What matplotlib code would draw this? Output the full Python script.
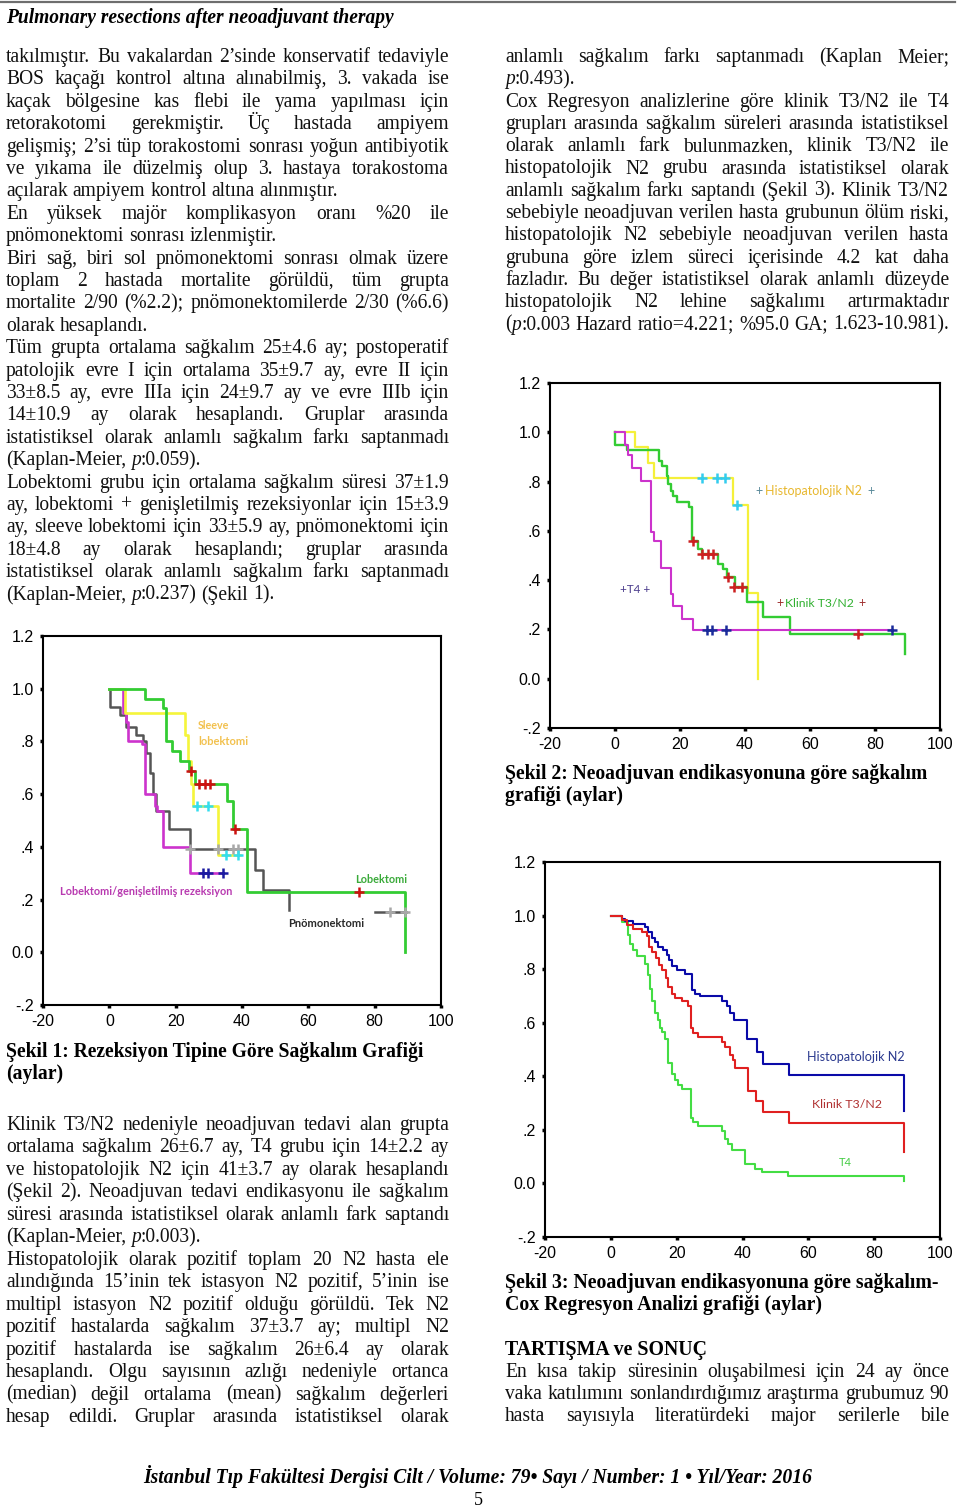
import matplotlib
matplotlib.use('Agg')
import matplotlib.pyplot as plt
from matplotlib.lines import Line2D

W, H = 960, 1507
SERIF = 'Liberation Serif'
SANS = 'Liberation Sans'
LABEL = 'Lato'
plt.rcParams['font.family'] = SANS

# ---------------- chart data (months, survival) ----------------
xticks = [-20, 0, 20, 40, 60, 80, 100]
yticks = [-0.2, 0.0, 0.2, 0.4, 0.6, 0.8, 1.0, 1.2]
ytick_labels = ['-.2', '0.0', '.2', '.4', '.6', '.8', '1.0', '1.2']

# Sekil 1 - resection type
lob_t = [0, 10.7, 16.3, 17.0, 19.0, 21.3, 24.0, 25.8, 35.4, 37.2, 41.4, 89.0]
lob_s = [1.0, 0.9625, 0.925, 0.80, 0.7625, 0.725, 0.6875, 0.64, 0.575, 0.469, 0.229, 0.0]
lob_cens_t = [24.5, 27.1, 28.8, 30.5, 37.9, 75.2]
lob_cens_s = [0.6875, 0.64, 0.64, 0.64, 0.469, 0.229]

slv_t = [0, 4.8, 22.8, 23.8, 24.5, 25.1, 32.9, 39.4]
slv_s = [1.0, 0.906, 0.825, 0.725, 0.637, 0.556, 0.368, 0.368]
slv_cens_t = [26.3, 29.8, 35.2, 38.9]
slv_cens_s = [0.556, 0.556, 0.368, 0.368]

gen_t = [0, 4.2, 5.0, 5.6, 9.8, 10.8, 13.8, 14.5, 16.3, 24.3, 34.2]
gen_s = [1.0, 0.906, 0.875, 0.80, 0.79, 0.60, 0.556, 0.537, 0.40, 0.299, 0.299]
gen_cens_t = [28.3, 29.8, 34.2]
gen_cens_s = [0.299, 0.299, 0.299]

pn_t = [0, 0.2, 3.2, 5.0, 8.0, 10.0, 11.2, 12.2, 13.2, 14.2, 18.1, 24.3, 43.9, 46.2, 54.3]
pn_s = [1.0, 0.93, 0.90, 0.856, 0.825, 0.80, 0.756, 0.68, 0.60, 0.537, 0.469, 0.39, 0.314, 0.235, 0.16]
pn_tail_t = [80.2, 89.3]
pn_tail_s = [0.151, 0.151]
pn_cens_t = [24.3, 32.9, 37.4, 38.9, 84.7, 89.0]
pn_cens_s = [0.39, 0.39, 0.39, 0.39, 0.151, 0.151]

# Sekil 2 - indication (Kaplan-Meier)
t4_t = [0, 3.1, 3.9, 5.1, 8.0, 11.0, 12.0, 14.05, 17.1, 17.9, 20.5, 24.1, 85.1]
t4_s = [1.0, 0.948, 0.909, 0.856, 0.803, 0.597, 0.56, 0.45, 0.343, 0.296, 0.242, 0.198, 0.198]
t4_cens_t = [28.2, 29.7, 34.05, 85.1]
t4_cens_s = [0.198, 0.198, 0.198, 0.198]

kl_t = [0, 0.05, 3.6, 13.5, 14.6, 15.9, 16.4, 17.1, 17.9, 19.0, 22.9, 23.7, 25.4, 26.7,
        31.8, 33.3, 34.4, 36.9, 40.5, 45.6, 53.8, 89.2]
kl_s = [1.0, 0.948, 0.928, 0.882, 0.862, 0.823, 0.789, 0.763, 0.743, 0.719, 0.697, 0.558,
        0.525, 0.505, 0.465, 0.447, 0.413, 0.373, 0.313, 0.252, 0.182, 0.101]
kl_cens_t = [24.0, 26.9, 28.5, 30.3, 34.7, 36.7, 39.0, 74.9]
kl_cens_s = [0.558, 0.505, 0.505, 0.505, 0.413, 0.373, 0.373, 0.182]

hp_t = [0, 6.15, 10.3, 12.0, 36.4, 41.0, 43.9]
hp_s = [1.0, 0.939, 0.875, 0.816, 0.703, 0.347, 0.0]
hp_cens_t = [26.7, 31.5, 33.8, 37.4]
hp_cens_s = [0.816, 0.816, 0.816, 0.703]

# Sekil 3 - Cox regression
cx_hn_t = [0, 3.3, 4.3, 6.8, 10.4, 11.4, 12.4, 13.4, 14.4, 15.9, 17.0, 17.8, 18.5, 20.0,
           22.5, 24.6, 25.6, 27.1, 33.7, 35.2, 36.2, 37.5, 41.3, 44.3, 46.3, 54.1, 89.2]
cx_hn_s = [1.0, 0.988, 0.979, 0.969, 0.959, 0.938, 0.917, 0.901, 0.883, 0.871, 0.852, 0.834,
           0.812, 0.797, 0.782, 0.723, 0.708, 0.698, 0.680, 0.661, 0.637, 0.612, 0.538, 0.49,
           0.446, 0.406, 0.271]
cx_kl_t = [0, 3.5, 4.8, 6.8, 9.6, 10.9, 11.6, 12.6, 13.6, 14.6, 15.4, 16.7, 17.5, 18.5, 19.5,
           21.5, 23.5, 24.3, 25.1, 26.6, 33.7, 34.7, 36.2, 37.2, 37.6, 41.6, 44.0, 46.3, 54.2, 89.2]
cx_kl_s = [1.0, 0.982, 0.963, 0.951, 0.938, 0.922, 0.883, 0.865, 0.840, 0.815, 0.797, 0.766,
           0.735, 0.708, 0.692, 0.680, 0.661, 0.581, 0.563, 0.548, 0.528, 0.511, 0.478, 0.462,
           0.431, 0.345, 0.308, 0.265, 0.224, 0.117]
cx_t4_t = [0, 3.3, 5.1, 5.8, 6.8, 7.8, 10.4, 11.2, 11.9, 12.6, 13.4, 14.2, 14.9, 15.6, 16.5,
           17.3, 18.5, 19.5, 20.5, 21.5, 24.3, 25.1, 26.6, 33.7, 34.7, 35.7, 36.7, 40.8, 43.8,
           45.8, 53.9, 89.2]
cx_t4_s = [1.0, 0.975, 0.926, 0.895, 0.871, 0.849, 0.821, 0.778, 0.725, 0.680, 0.637, 0.612,
           0.581, 0.565, 0.538, 0.449, 0.409, 0.388, 0.369, 0.351, 0.246, 0.228, 0.215, 0.197,
           0.166, 0.148, 0.123, 0.074, 0.055, 0.043, 0.027, 0.010]

# ---------------- page text ----------------
J, L = True, False
left_top = [
    ("takılmıştır. Bu vakalardan 2’sinde konservatif tedaviyle", J),
    ("BOS kaçağı kontrol altına alınabilmiş, 3. vakada ise", J),
    ("kaçak bölgesine kas flebi ile yama yapılması için", J),
    ("retorakotomi gerekmiştir. Üç hastada ampiyem", J),
    ("gelişmiş; 2’si tüp torakostomi sonrası yoğun antibiyotik", J),
    ("ve yıkama ile düzelmiş olup 3. hastaya torakostoma", J),
    ("açılarak ampiyem kontrol altına alınmıştır.", L),
    ("En yüksek majör komplikasyon oranı %20 ile", J),
    ("pnömonektomi sonrası izlenmiştir.", L),
    ("Biri sağ, biri sol pnömonektomi sonrası olmak üzere", J),
    ("toplam 2 hastada mortalite görüldü, tüm grupta", J),
    ("mortalite 2/90 (%2.2); pnömonektomilerde 2/30 (%6.6)", J),
    ("olarak hesaplandı.", L),
    ("Tüm grupta ortalama sağkalım 25±4.6 ay; postoperatif", J),
    ("patolojik evre I için ortalama 35±9.7 ay, evre II için", J),
    ("33±8.5 ay, evre IIIa için 24±9.7 ay ve evre IIIb için", J),
    ("14±10.9 ay olarak hesaplandı. Gruplar arasında", J),
    ("istatistiksel olarak anlamlı sağkalım farkı saptanmadı", J),
    ("(Kaplan-Meier, {p}:0.059).", L),
    ("Lobektomi grubu için ortalama sağkalım süresi 37±1.9", J),
    ("ay, lobektomi + genişletilmiş rezeksiyonlar için 15±3.9", J),
    ("ay, sleeve lobektomi için 33±5.9 ay, pnömonektomi için", J),
    ("18±4.8 ay olarak hesaplandı; gruplar arasında", J),
    ("istatistiksel olarak anlamlı sağkalım farkı saptanmadı", J),
    ("(Kaplan-Meier, {p}:0.237) (Şekil 1).", L),
]
left_bottom = [
    ("Klinik T3/N2 nedeniyle neoadjuvan tedavi alan grupta", J),
    ("ortalama sağkalım 26±6.7 ay, T4 grubu için 14±2.2 ay", J),
    ("ve histopatolojik N2 için 41±3.7 ay olarak hesaplandı", J),
    ("(Şekil 2). Neoadjuvan tedavi endikasyonu ile sağkalım", J),
    ("süresi arasında istatistiksel olarak anlamlı fark saptandı", J),
    ("(Kaplan-Meier, {p}:0.003).", L),
    ("Histopatolojik olarak pozitif toplam 20 N2 hasta ele", J),
    ("alındığında 15’inin tek istasyon N2 pozitif, 5’inin ise", J),
    ("multipl istasyon N2 pozitif olduğu görüldü. Tek N2", J),
    ("pozitif hastalarda sağkalım 37±3.7 ay; multipl N2", J),
    ("pozitif hastalarda ise sağkalım 26±6.4 ay olarak", J),
    ("hesaplandı. Olgu sayısının azlığı nedeniyle ortanca", J),
    ("(median) değil ortalama (mean) sağkalım değerleri", J),
    ("hesap edildi. Gruplar arasında istatistiksel olarak", J),
]
right_top = [
    ("anlamlı sağkalım farkı saptanmadı (Kaplan Meier;", J),
    ("{p}:0.493).", L),
    ("Cox Regresyon analizlerine göre klinik T3/N2 ile T4", J),
    ("grupları arasında sağkalım süreleri arasında istatistiksel", J),
    ("olarak anlamlı fark bulunmazken, klinik T3/N2 ile", J),
    ("histopatolojik N2 grubu arasında istatistiksel olarak", J),
    ("anlamlı sağkalım farkı saptandı (Şekil 3). Klinik T3/N2", J),
    ("sebebiyle neoadjuvan verilen hasta grubunun ölüm riski,", J),
    ("histopatolojik N2 sebebiyle neoadjuvan verilen hasta", J),
    ("grubuna göre izlem süreci içerisinde 4.2 kat daha", J),
    ("fazladır. Bu değer istatistiksel olarak anlamlı düzeyde", J),
    ("histopatolojik N2 lehine sağkalımı artırmaktadır", J),
    ("({p}:0.003 Hazard ratio=4.221; %95.0 GA; 1.623-10.981).", J),
]
right_bottom = [
    ("En kısa takip süresinin oluşabilmesi için 24 ay önce", J),
    ("vaka katılımını sonlandırdığımız araştırma grubumuz 90", J),
    ("hasta sayısıyla literatürdeki major serilerle bile", J),
]

fig = plt.figure(figsize=(W / 100, H / 100), dpi=100)
fig.patch.set_facecolor('white')
renderer = fig.canvas.get_renderer()


def fy(y):
    return 1 - y / H


def width_of(t):
    return t.get_window_extent(renderer).width


def fit(t, width):
    t.set_fontsize(t.get_fontsize() * width / width_of(t))
    return t


# body size: widest justified line sets natural width of the column
probe = fig.text(0, 0, '', fontsize=12, family=SERIF)
widest = 0
for block in (left_top, left_bottom, right_top, right_bottom):
    for s, just in block:
        if just:
            probe.set_text(s.replace('{p}', 'p'))
            widest = max(widest, width_of(probe))
probe.remove()
BODY = 12 * 443 / widest


def put_line(text, x0, x1, y, size, justify=True, weight='normal'):
    words = text.split(' ')
    pieces, widths = [], []
    for w in words:
        segs = w.split('{p}')
        parts = []
        for i, s in enumerate(segs):
            if i > 0:
                parts.append(('p', 'italic'))
            if s:
                parts.append((s, 'normal'))
        items, tot = [], 0
        for s, st in parts:
            t = fig.text(0, fy(y), s, fontsize=size, family=SERIF, style=st,
                         weight=weight, va='baseline', ha='left', color='#111111')
            bw = width_of(t)
            items.append((t, bw))
            tot += bw
        pieces.append(items)
        widths.append(tot)
    space = 0.25 * size * 100 / 72
    if justify and len(words) > 1:
        gap = (x1 - x0 - sum(widths)) / (len(words) - 1)
    else:
        gap = space
    x = x0
    for items, w in zip(pieces, widths):
        xx = x
        for t, bw in items:
            t.set_x(xx / W)
            xx += bw
        x += w + gap


def put_block(lines, x0, x1, y0, pitch):
    for i, (s, just) in enumerate(lines):
        put_line(s, x0, x1, y0 + i * pitch, BODY, justify=just)


# header / footer
fig.add_artist(Line2D([0, 955 / W], [fy(2), fy(2)], color='#6e6e6e', lw=1.6))
fit(fig.text(6 / W, fy(23), 'Pulmonary resections after neoadjuvant therapy', fontsize=12,
             family=SERIF, weight='bold', style='italic', va='baseline'), 389)
fit(fig.text(478 / W, fy(1483),
             'İstanbul Tıp Fakültesi Dergisi Cilt / Volume: 79• Sayı / Number: 1 • Yıl/Year: 2016',
             fontsize=12, family=SERIF, weight='bold', style='italic', va='baseline',
             ha='center'), 669)
fig.text(478 / W, fy(1505), '5', fontsize=13, family=SERIF, va='baseline', ha='center')

put_block(left_top, 6, 449, 62, 22.4)
put_block(left_bottom, 6, 449, 1130, 22.46)
put_block(right_top, 505, 949, 62, 22.3)
put_block(right_bottom, 505, 949, 1377, 22.2)


def caption(lines, x0, y0, width, pitch=22.3):
    t = fit(fig.text(x0 / W, fy(y0), lines[0], fontsize=12, family=SERIF, weight='bold',
                     va='baseline'), width)
    for i, s in enumerate(lines[1:], 1):
        fig.text(x0 / W, fy(y0 + i * pitch), s, fontsize=t.get_fontsize(), family=SERIF,
                 weight='bold', va='baseline')


caption(['Şekil 1: Rezeksiyon Tipine Göre Sağkalım Grafiği', '(aylar)'], 6, 1057, 417)
caption(['Şekil 2: Neoadjuvan endikasyonuna göre sağkalım', 'grafiği (aylar)'], 505, 779, 421)
caption(['Şekil 3: Neoadjuvan endikasyonuna göre sağkalım-',
         'Cox Regresyon Analizi grafiği (aylar)'], 505, 1288, 432)
caption(['TARTIŞMA ve SONUÇ'], 505, 1355, 202)


# ---------------- charts ----------------
def km_axes(left, right, top, bottom):
    ax = fig.add_axes([left / W, 1 - bottom / H, (right - left) / W, (bottom - top) / H])
    ax.set_xlim(-20, 100)
    ax.set_ylim(-0.2, 1.2)
    ax.set_xticks(xticks)
    ax.set_xticklabels([str(v) for v in xticks])
    ax.set_yticks(yticks)
    ax.set_yticklabels(ytick_labels)
    for s in ax.spines.values():
        s.set_linewidth(1.5)
        s.set_color('black')
    ax.tick_params(direction='out', length=2.5, width=2.5, labelsize=11.5, pad=4,
                   colors='black')
    return ax


def cens(ax, t, s, color, ms=7, mew=1.8):
    ax.plot(t, s, linestyle='none', marker='+', color=color, ms=ms, mew=mew, zorder=5)


# Sekil 1
ax1 = km_axes(43, 441, 636, 1005)
ax1.step(pn_t, pn_s, where='post', color='#555555', lw=1.8)
ax1.plot(pn_tail_t, pn_tail_s, color='#555555', lw=1.8)
ax1.step(gen_t, gen_s, where='post', color='#cc33cc', lw=1.9)
ax1.step(slv_t, slv_s, where='post', color='#f5f53a', lw=1.9)
ax1.step(lob_t, lob_s, where='post', color='#33cc33', lw=2.0)
cens(ax1, pn_cens_t, pn_cens_s, '#a8a8a8')
cens(ax1, gen_cens_t, gen_cens_s, '#1a1aa0')
cens(ax1, slv_cens_t, slv_cens_s, '#33ddee')
cens(ax1, lob_cens_t, lob_cens_s, '#cc1111')
kw1 = dict(family=LABEL, weight='bold', va='center', ha='left', fontsize=8)
fit(ax1.text(26.7, 0.862, 'Sleeve', color='#f2c14e', **kw1), 32)
fit(ax1.text(26.7, 0.798, 'lobektomi', color='#f2c14e', **kw1), 50)
fit(ax1.text(-14.9, 0.232, 'Lobektomi/genişletilmiş rezeksiyon', color='#b83ab0', **kw1), 173)
fit(ax1.text(74.1, 0.278, 'Lobektomi', color='#3aaa3a', **kw1), 52)
fit(ax1.text(53.9, 0.111, 'Pnömonektomi', color='#2a2a2a', **kw1), 76)

# Sekil 2
ax2 = km_axes(550, 940, 383, 728)
ax2.step(hp_t, hp_s, where='post', color='#f5f03a', lw=1.6)
ax2.step(kl_t, kl_s, where='post', color='#33cc33', lw=1.7)
ax2.step(t4_t, t4_s, where='post', color='#cc33cc', lw=1.5)
cens(ax2, hp_cens_t, hp_cens_s, '#33ccee')
cens(ax2, kl_cens_t, kl_cens_s, '#cc2020')
cens(ax2, t4_cens_t, t4_cens_s, '#1a2a9a')
kw2 = dict(family=LABEL, va='center', ha='left', fontsize=9)
ax2.text(43.1, 0.762, '+', color='#5a8a9a', **kw2)
fit(ax2.text(46.2, 0.762, 'Histopatolojik N2', color='#e8b830', **kw2), 97)
ax2.text(77.6, 0.762, '+', color='#5a8a9a', **kw2)
fit(ax2.text(1.5, 0.364, '+T4 +', color='#4b3c8c', **kw2), 30)
ax2.text(49.6, 0.307, '+', color='#a03030', **kw2)
fit(ax2.text(52.3, 0.307, 'Klinik T3/N2', color='#30b030', **kw2), 70)
ax2.text(75.0, 0.307, '+', color='#a03030', **kw2)

# Sekil 3
ax3 = km_axes(545, 940, 862, 1237)
ax3.step(cx_t4_t, cx_t4_s, where='post', color='#44dd44', lw=1.5)
ax3.step(cx_hn_t, cx_hn_s, where='post', color='#0a0aa8', lw=1.5)
ax3.step(cx_kl_t, cx_kl_s, where='post', color='#e02020', lw=1.5)
kw3 = dict(family=LABEL, va='center', ha='left', fontsize=8)
fit(ax3.text(59.6, 0.472, 'Histopatolojik N2', color='#2b3a8f', **kw3), 98)
fit(ax3.text(61.1, 0.293, 'Klinik T3/N2', color='#b03030', **kw3), 70)
fit(ax3.text(69.3, 0.080, 'T4', color='#44cc44', **kw3), 13)

fig.savefig('out.png', dpi=100, facecolor='white')
